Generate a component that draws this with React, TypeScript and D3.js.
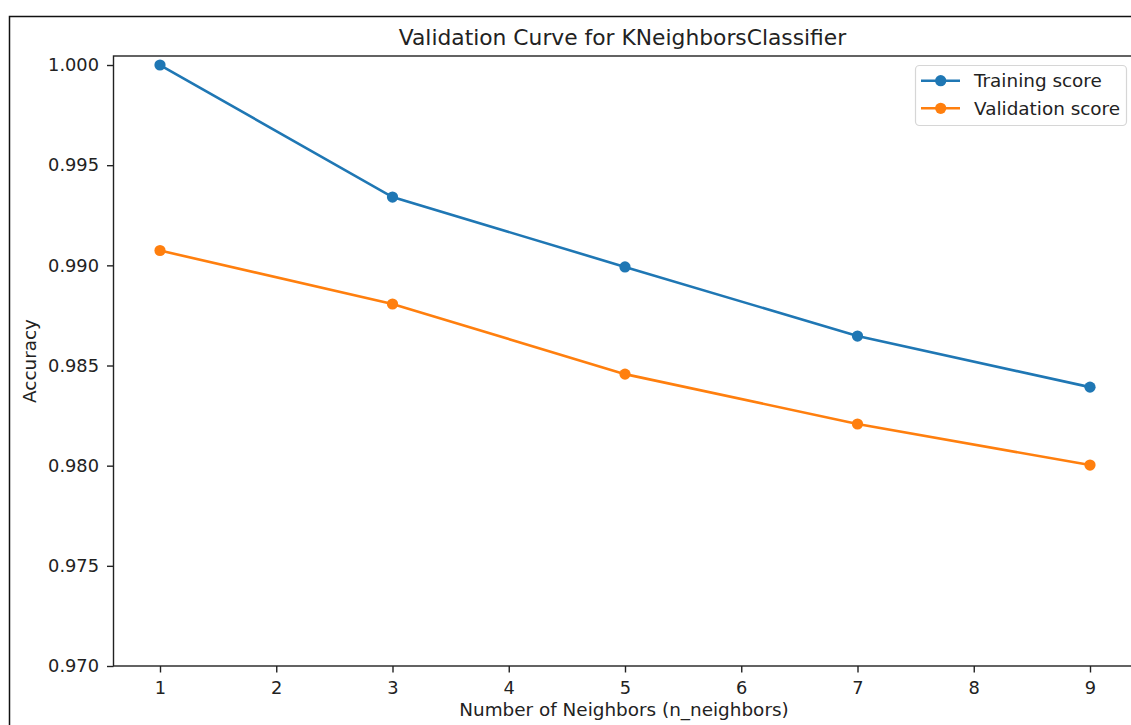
import React, { useEffect, useRef } from "react";
import * as d3 from "d3";

// values
const neighbors = [1, 3, 5, 7, 9];
const trainingScores = [1.0, 0.99341, 0.98992, 0.98647, 0.98392];
const validationScores = [0.99074, 0.98807, 0.98457, 0.98208, 0.98003];
const xTicks = [1, 2, 3, 4, 5, 6, 7, 8, 9];
const yTicks = [0.97, 0.975, 0.98, 0.985, 0.99, 0.995, 1.0];
const seriesNames = ["Training score", "Validation score"];
const seriesColors = ["#1f77b4", "#ff7f0e"];

const W = 1131;
const H = 725;
const FONT = "DejaVu Sans, sans-serif";

export default function App() {
  const ref = useRef<SVGSVGElement | null>(null);

  useEffect(() => {
    const svg = d3.select(ref.current);
    svg.selectAll("*").remove();

    const left = 113.5, right = 1136.5, top = 56, bottom = 666;

    const x = d3.scaleLinear().domain([0.6, 9.4]).range([left, right]);
    const y = d3.scaleLinear().domain([0.97, 1.00045]).range([bottom, top]);

    svg.append("rect").attr("width", W).attr("height", H).attr("fill", "#fff");

    // outer frame of the screenshot
    svg.append("rect")
      .attr("x", 9.5).attr("y", 16.5)
      .attr("width", 1300).attr("height", 900)
      .attr("fill", "none").attr("stroke", "#111").attr("stroke-width", 1.5);

    // axes
    const yAxis = svg.append("g")
      .attr("transform", `translate(${left},0)`)
      .call(d3.axisLeft(y).tickValues(yTicks).tickFormat(d3.format(".3f")).tickSize(6.5).tickPadding(8));
    const xAxis = svg.append("g")
      .attr("transform", `translate(0,${bottom})`)
      .call(d3.axisBottom(x).tickValues(xTicks).tickFormat(d3.format("d")).tickSize(6.5).tickPadding(8.5));

    [yAxis, xAxis].forEach((g) => {
      g.select(".domain").remove();
      g.selectAll("line").attr("stroke", "#222").attr("stroke-width", 1.4);
      g.selectAll("text").attr("font-family", FONT).attr("font-size", 17.8).attr("fill", "#222");
    });

    // spines
    svg.append("rect")
      .attr("x", left).attr("y", top)
      .attr("width", right - left).attr("height", bottom - top)
      .attr("fill", "none").attr("stroke", "#222").attr("stroke-width", 1.4);

    // series
    const allSeries = [trainingScores, validationScores];
    const line = d3.line<number>().x((d, i) => x(neighbors[i])).y((d) => y(d));

    allSeries.forEach((values, s) => {
      svg.append("path")
        .attr("d", line(values))
        .attr("fill", "none")
        .attr("stroke", seriesColors[s])
        .attr("stroke-width", 2.6);
      svg.append("g").selectAll("circle")
        .data(values)
        .enter()
        .append("circle")
        .attr("cx", (d, i) => x(neighbors[i]))
        .attr("cy", (d) => y(d))
        .attr("r", 5.6)
        .attr("fill", seriesColors[s]);
    });

    // title + labels
    svg.append("text")
      .attr("x", 622.5).attr("y", 45)
      .attr("text-anchor", "middle")
      .attr("font-family", FONT).attr("font-size", 21.8).attr("fill", "#222")
      .text("Validation Curve for KNeighborsClassifier");

    svg.append("text")
      .attr("x", 624).attr("y", 716)
      .attr("text-anchor", "middle")
      .attr("font-family", FONT).attr("font-size", 18.4).attr("fill", "#222")
      .text("Number of Neighbors (n_neighbors)");

    svg.append("text")
      .attr("transform", `translate(36,${(top + bottom) / 2}) rotate(-90)`)
      .attr("text-anchor", "middle")
      .attr("font-family", FONT).attr("font-size", 18.4).attr("fill", "#222")
      .text("Accuracy");

    // legend
    const legend = svg.append("g");
    legend.append("rect")
      .attr("x", 915.5).attr("y", 65.5)
      .attr("width", 211).attr("height", 60)
      .attr("rx", 4)
      .attr("fill", "#fff").attr("fill-opacity", 0.8)
      .attr("stroke", "#d6d6d6").attr("stroke-width", 1.2);

    seriesNames.forEach((name, i) => {
      const cy = 80.7 + i * 27.6;
      legend.append("line")
        .attr("x1", 921).attr("x2", 960).attr("y1", cy).attr("y2", cy)
        .attr("stroke", seriesColors[i]).attr("stroke-width", 2.6);
      legend.append("circle")
        .attr("cx", 940.7).attr("cy", cy).attr("r", 5.6)
        .attr("fill", seriesColors[i]);
      legend.append("text")
        .attr("x", 974).attr("y", cy).attr("dy", "0.35em")
        .attr("font-family", FONT).attr("font-size", 18.4).attr("fill", "#222")
        .text(name);
    });
  }, []);

  return (
    <svg
      ref={ref}
      width={W}
      height={H}
      style={{ position: "absolute", left: 0, top: 0, display: "block" }}
    />
  );
}
